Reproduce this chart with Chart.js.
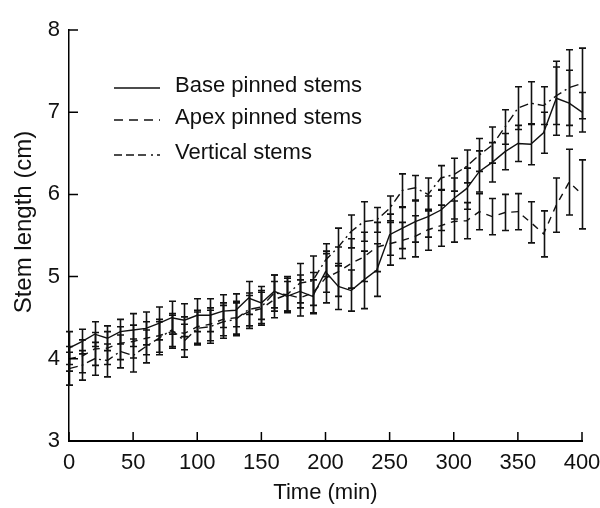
<!DOCTYPE html>
<html><head><meta charset="utf-8">
<script src="https://cdn.jsdelivr.net/npm/chart.js@4/dist/chart.umd.min.js"></script>
<style>html,body{margin:0;padding:0;background:#fff}canvas{display:block}</style>
</head><body>
<canvas id="c" width="600" height="508"></canvas>
<script>
// ---- data ----
const times = [0,10,20,30,40,50,60,70,80,90,100,110,120,130,140,150,160,170,180,190,200,210,220,230,240,250,260,270,280,290,300,310,320,330,340,350,360,370,380,390,400];
const baseLength = [4.13,4.21,4.30,4.25,4.33,4.35,4.37,4.43,4.50,4.47,4.53,4.53,4.58,4.59,4.74,4.68,4.82,4.76,4.82,4.76,5.06,4.88,4.83,4.96,5.08,5.51,5.59,5.67,5.73,5.81,5.95,6.07,6.28,6.39,6.52,6.62,6.61,6.75,7.17,7.11,7.00];
const apexLength = [4.00,4.03,4.12,4.13,4.19,4.21,4.25,4.28,4.33,4.31,4.39,4.42,4.48,4.50,4.57,4.61,4.72,4.78,4.74,4.80,4.98,5.06,5.16,5.24,5.36,5.40,5.44,5.49,5.57,5.62,5.67,5.68,5.79,5.73,5.78,5.79,5.66,5.52,5.87,6.15,6.00];
const verticalLength = [3.88,3.92,4.00,3.98,4.09,4.04,4.15,4.25,4.35,4.22,4.37,4.39,4.45,4.48,4.60,4.63,4.80,4.78,4.92,4.95,5.20,5.36,5.55,5.67,5.69,5.83,6.05,6.08,6.00,6.20,6.24,6.34,6.48,6.60,6.82,7.05,7.11,7.08,7.20,7.30,7.35];
const baseErr = [0.2,0.15,0.15,0.15,0.15,0.2,0.2,0.2,0.2,0.2,0.2,0.2,0.2,0.2,0.2,0.2,0.2,0.18,0.2,0.2,0.25,0.28,0.25,0.35,0.32,0.25,0.25,0.25,0.25,0.25,0.25,0.25,0.25,0.24,0.22,0.22,0.25,0.25,0.45,0.4,0.24];
const apexErr = [0.15,0.2,0.2,0.2,0.2,0.2,0.2,0.2,0.2,0.2,0.2,0.2,0.2,0.2,0.2,0.2,0.22,0.22,0.22,0.25,0.3,0.3,0.3,0.3,0.3,0.26,0.22,0.25,0.25,0.25,0.25,0.22,0.22,0.22,0.22,0.22,0.25,0.28,0.33,0.4,0.42];
const verticalErr = [0.2,0.18,0.2,0.2,0.2,0.2,0.2,0.2,0.2,0.2,0.2,0.2,0.2,0.2,0.2,0.2,0.22,0.2,0.24,0.3,0.2,0.23,0.2,0.24,0.15,0.15,0.2,0.15,0.2,0.15,0.2,0.2,0.2,0.22,0.21,0.26,0.26,0.23,0.35,0.46,0.43];
const seriesLabels = ['Base pinned stems','Apex pinned stems','Vertical stems'];
const xTitle = 'Time (min)';
const yTitle = 'Stem length (cm)';

const FONT = "'Liberation Sans', Arial, Helvetica, sans-serif";
const pts = arr => arr.map((v,i)=>({x:times[i], y:v}));

const errorBars = {
  id:'errorBars',
  afterDatasetsDraw(chart){
    const {ctx, scales:{x,y}} = chart;
    ctx.save();
    ctx.strokeStyle='#111'; ctx.lineWidth=1.6; ctx.setLineDash([]);
    chart.data.datasets.forEach(ds=>{
      ds.errors.forEach((e,i)=>{
        const p = ds.data[i];
        const px = Math.round(x.getPixelForValue(p.x))+0.5;
        const t = y.getPixelForValue(p.y+e), b = y.getPixelForValue(p.y-e);
        ctx.beginPath();
        ctx.moveTo(px,t); ctx.lineTo(px,b);
        ctx.moveTo(px-3.5,t); ctx.lineTo(px+3.5,t);
        ctx.moveTo(px-3.5,b); ctx.lineTo(px+3.5,b);
        ctx.stroke();
      });
    });
    ctx.restore();
  }
};

const inwardTicks = {
  id:'inwardTicks',
  afterDraw(chart){
    const {ctx, scales:{x,y}, chartArea:a} = chart;
    ctx.save(); ctx.strokeStyle='#000'; ctx.lineWidth=1.5; ctx.setLineDash([]);
    ctx.beginPath();
    x.ticks.forEach(t=>{const px=x.getPixelForValue(t.value); ctx.moveTo(px,a.bottom); ctx.lineTo(px,a.bottom-9);});
    y.ticks.forEach(t=>{const py=y.getPixelForValue(t.value); ctx.moveTo(a.left,py); ctx.lineTo(a.left+9,py);});
    ctx.stroke();
    // y axis title
    ctx.fillStyle='#111'; ctx.font='24px '+FONT; ctx.textAlign='center'; ctx.textBaseline='middle';
    ctx.translate(24,222); ctx.rotate(-Math.PI/2); ctx.fillText(yTitle,0,0);
    ctx.restore();
  }
};

const innerLegend = {
  id:'innerLegend',
  afterDraw(chart){
    const {ctx} = chart;
    const rows = [86,118,153];
    ctx.save();
    ctx.font = '22px '+FONT; ctx.fillStyle='#111'; ctx.textBaseline='middle';
    chart.data.datasets.forEach((ds,i)=>{
      ctx.strokeStyle='#111'; ctx.lineWidth=1.6;
      ctx.setLineDash(ds.legendDash);
      ctx.beginPath(); ctx.moveTo(114,rows[i]+2); ctx.lineTo(160,rows[i]+2); ctx.stroke();
      ctx.setLineDash([]);
      ctx.fillText(ds.label,175,rows[i]);
    });
    ctx.restore();
  }
};

new Chart(document.getElementById('c'),{
  type:'line',
  data:{datasets:[
    {label:seriesLabels[0],data:pts(baseLength),errors:baseErr,borderColor:'#111',borderWidth:1.4,borderDash:[],legendDash:[],pointRadius:0,tension:0,fill:false},
    {label:seriesLabels[1],data:pts(apexLength),errors:apexErr,borderColor:'#111',borderWidth:1.4,borderDash:[7,6],legendDash:[9,6],pointRadius:0,tension:0,fill:false},
    {label:seriesLabels[2],data:pts(verticalLength),errors:verticalErr,borderColor:'#111',borderWidth:1.4,borderDash:[9,4,2,4],legendDash:[8,4,8,4,8,5,2,4],pointRadius:0,tension:0,fill:false}
  ]},
  options:{
    responsive:false, animation:false, devicePixelRatio:1,
    layout:{padding:{top:30,left:0,right:0,bottom:0}},
    plugins:{legend:{display:false},tooltip:{enabled:false}},
    scales:{
      x:{type:'linear',min:0,max:400,
        ticks:{stepSize:50,color:'#111',font:{family:FONT,size:22},padding:9,maxRotation:0},
        grid:{display:false,drawTicks:false},
        border:{display:true,color:'#000',width:2},
        title:{display:true,text:xTitle,color:'#111',font:{family:FONT,size:22},padding:{top:0,bottom:2}},
        afterFit(s){s.height=67; s.paddingRight=18; s.paddingLeft=0;}
      },
      y:{type:'linear',min:3,max:8,
        ticks:{stepSize:1,color:'#111',font:{family:FONT,size:22},padding:9},
        grid:{display:false,drawTicks:false},
        border:{display:true,color:'#000',width:1.5},
        title:{display:false},
        afterFit(s){s.width=69;}
      }
    }
  },
  plugins:[errorBars,inwardTicks,innerLegend]
});
</script>
</body></html>
